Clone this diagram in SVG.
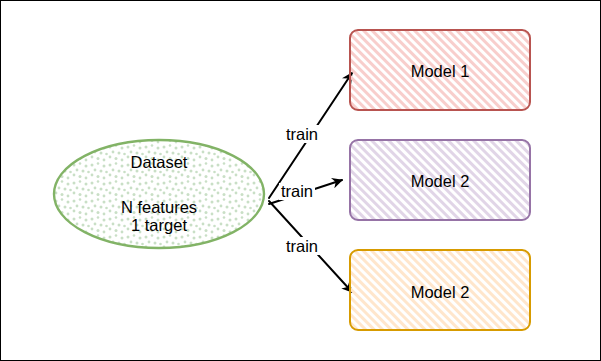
<svg xmlns="http://www.w3.org/2000/svg" width="601" height="361" viewBox="0 0 601 361">
<style>
  .lbl{font-family:"Liberation Sans",Arial,sans-serif;font-size:16.5px;fill:#000;text-anchor:middle}
  .conn{fill:none;stroke:#000;stroke-width:2;stroke-linecap:round}
</style>
<defs>
  <pattern id="hRed" width="6" height="6" patternUnits="userSpaceOnUse" patternTransform="rotate(-45)"><rect x="0" y="0" width="3" height="6" fill="#f8cecc"/></pattern>
  <pattern id="hPur" width="6" height="6" patternUnits="userSpaceOnUse" patternTransform="rotate(-45)"><rect x="0" y="0" width="3" height="6" fill="#e1d5e7"/></pattern>
  <pattern id="hOra" width="6" height="6" patternUnits="userSpaceOnUse" patternTransform="rotate(-45)"><rect x="0" y="0" width="3" height="6" fill="#ffe6cc"/></pattern>
  <pattern id="dots" width="18" height="18" patternUnits="userSpaceOnUse">
    <g fill="#c9dfc6">
      <circle cx="2" cy="3" r="1.5"/><circle cx="8" cy="1.5" r="1.3"/><circle cx="14" cy="4" r="1.5"/>
      <circle cx="5" cy="8" r="1.4"/><circle cx="11" cy="9" r="1.5"/><circle cx="16.5" cy="10" r="1.3"/>
      <circle cx="2" cy="13" r="1.4"/><circle cx="8" cy="14.5" r="1.5"/><circle cx="14" cy="16" r="1.4"/>
    </g>
  </pattern>
  <marker id="arr" viewBox="0 0 10 10" refX="9" refY="5" markerWidth="11" markerHeight="11" markerUnits="userSpaceOnUse" orient="auto">
    <path d="M0,0 L10,5 L0,10 L3,5 Z" fill="#000"/>
  </marker>
</defs>
<rect x="0.5" y="0.5" width="600" height="360" fill="#fff" stroke="#000" stroke-width="1"/>

<g id="connectors">
  <path class="conn" d="M269,198 L352,73" marker-end="url(#arr)"/>
  <path class="conn" d="M269,204 L342,180" marker-end="url(#arr)"/>
  <path class="conn" d="M269,201 L352,292" marker-end="url(#arr)"/>
  <rect x="282" y="125" width="40" height="18" fill="#fff"/>
  <text class="lbl" x="302" y="140">train</text>
  <rect x="279" y="183" width="36" height="17" fill="#fff"/>
  <text class="lbl" x="297" y="197">train</text>
  <rect x="282" y="237" width="40" height="18" fill="#fff"/>
  <text class="lbl" x="302" y="252">train</text>
</g>

<g id="dataset">
  <ellipse cx="159" cy="194" rx="105" ry="54" fill="url(#dots)" stroke="#82b366" stroke-width="2.4"/>
  <text class="lbl" x="159" y="168">Dataset</text>
  <text class="lbl" x="159" y="213">N features</text>
  <text class="lbl" x="159" y="231">1 target</text>
</g>

<g id="model1">
  <rect x="350" y="30" width="180" height="80" rx="8" fill="url(#hRed)" stroke="#b85450" stroke-width="2"/>
  <text class="lbl" x="440" y="77">Model 1</text>
</g>

<g id="model2a">
  <rect x="350" y="140" width="180" height="80" rx="8" fill="url(#hPur)" stroke="#9673a6" stroke-width="2"/>
  <text class="lbl" x="440" y="187">Model 2</text>
</g>

<g id="model2b">
  <rect x="350" y="250" width="180" height="80" rx="8" fill="url(#hOra)" stroke="#d79b00" stroke-width="2"/>
  <text class="lbl" x="440" y="298">Model 2</text>
</g>
</svg>
